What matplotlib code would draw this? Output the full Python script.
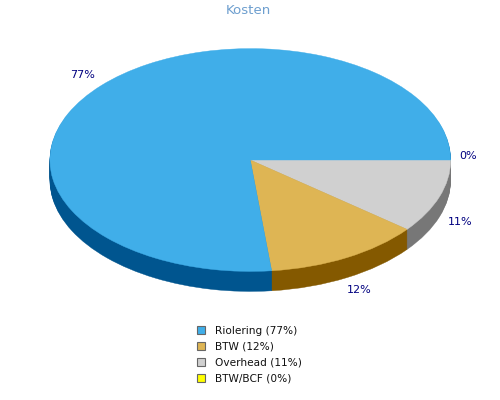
import numpy as np
import matplotlib
matplotlib.use('Agg')
import matplotlib.pyplot as plt
from matplotlib.patches import Patch

# data
names = ['Riolering', 'BTW', 'Overhead', 'BTW/BCF']
values = [76.7, 12.6, 10.7, 0.0]
percent_labels = ['77%', '12%', '11%', '0%']
top_colors = ['#40AEE9', '#DEB554', '#D0D0D0', '#FFFF00']
side_colors = ['#00558F', '#845900', '#777777', '#999900']

W, H = 500, 400
fig = plt.figure(figsize=(W / 100, H / 100), dpi=100, facecolor='white')

# axes box is the top ellipse of the pie
cx, cy, rx, ry = 250.3, 160, 200.4, 111.4
ax = fig.add_axes([(cx - rx) / W, (H - cy - ry) / H, 2 * rx / W, 2 * ry / H])

# slices go clockwise from 3 o'clock in reverse order
def draw_pie(colors, shift):
    wedges, _ = ax.pie(values[::-1], colors=colors[::-1], startangle=0,
                       counterclock=False, center=(0, -shift), radius=1,
                       wedgeprops={'linewidth': 0, 'clip_on': False})
    # thin edge in own colour so no white seams show between slices
    for w in wedges:
        w.set_edgecolor(w.get_facecolor())
        w.set_linewidth(0.3)
    return wedges

# the 3d rim, stacked pies in the dark colours
depth = 20
for d in range(depth, 0, -1):
    draw_pie(side_colors, d / ry)
draw_pie(top_colors, 0)

ax.set_aspect('auto')
ax.set_xlim(-1, 1)
ax.set_ylim(-1, 1)
ax.axis('off')

fig.text(248 / W, 1 - 10 / H, 'Kosten', color='#6E9FCF', fontsize=9.6,
         ha='center', va='center')

# percent labels around the pie
label_xy = [(82.5, 75), (359, 290), (460, 222), (468, 156)]
for txt, (x, y) in zip(percent_labels, label_xy):
    fig.text(x / W, 1 - y / H, txt, color='#000080', fontsize=8,
             ha='center', va='center')

handles = [Patch(facecolor=c, edgecolor='#666666', linewidth=0.8) for c in top_colors]
legend_labels = ['%s (%s)' % (n, p) for n, p in zip(names, percent_labels)]
fig.legend(handles, legend_labels, loc='upper left',
           bbox_to_anchor=(197 / W, 1 - 325.5 / H), frameon=False, fontsize=7.6,
           labelcolor='#111111', handlelength=0.78, handleheight=0.78,
           handletextpad=0.92, labelspacing=0.58, borderpad=0, borderaxespad=0)

fig.savefig('out.png', dpi=100)
